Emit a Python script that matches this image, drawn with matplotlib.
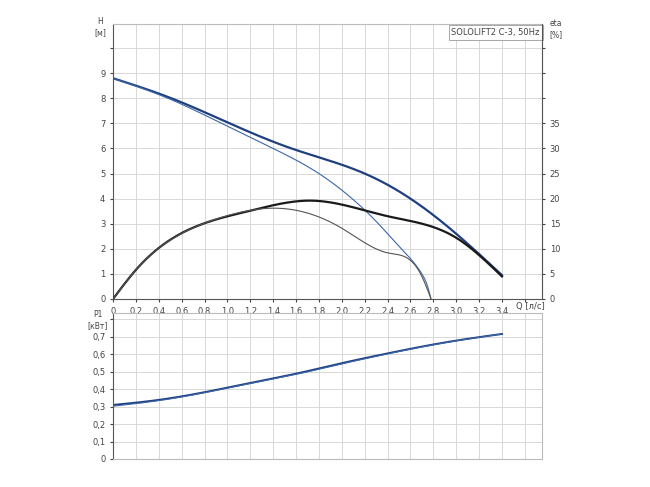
import numpy as np
import matplotlib.pyplot as plt

q_h = [0, 0.51, 1.02, 1.56, 2.2, 2.6, 3.0, 3.4]
h_full = [8.8, 8.0, 7.0, 6.0, 5.0, 4.0, 2.6, 0.95]
q_h2 = [0, 0.48, 0.95, 1.4, 1.8, 2.09, 2.32, 2.52, 2.70, 2.75, 2.78]
h_part = [8.8, 8.0, 7.0, 6.0, 5.0, 4.0, 3.0, 2.0, 1.0, 0.5, 0.0]
q_eta = [0, 0.2, 0.8, 1.2, 1.74, 2.4, 3.0, 3.4]
eta_full = [0, 5.8, 15.1, 17.6, 19.6, 16.5, 12.2, 4.5]
q_eta2 = [0, 0.2, 0.8, 1.1, 1.4, 2.0, 2.4, 2.7, 2.78]
eta_part = [0, 5.8, 15.1, 17.2, 18.1, 14.1, 9.2, 4.5, 0.0]
q_p = [0, 0.4, 0.8, 1.2, 1.6, 2.0, 2.4, 2.8, 3.2, 3.4]
p1_a = [0.309, 0.338, 0.382, 0.435, 0.488, 0.548, 0.604, 0.655, 0.697, 0.715]
p1_b = [0.302, 0.334, 0.379, 0.432, 0.484, 0.544, 0.601, 0.653, 0.696, 0.715]

blue = "#1f3f7f"
lblue = "#3a66a8"
gc = "#d8d8d8"
fs = 6


def spline(x, y, n=300):
    # natural cubic spline through the read points
    x = np.asarray(x, float)
    y = np.asarray(y, float)
    m = len(x)
    h = np.diff(x)
    A = np.zeros((m, m))
    b = np.zeros(m)
    A[0, 0] = A[-1, -1] = 1
    for i in range(1, m - 1):
        A[i, i - 1] = h[i - 1]
        A[i, i] = 2 * (h[i - 1] + h[i])
        A[i, i + 1] = h[i]
        b[i] = 3 * ((y[i + 1] - y[i]) / h[i] - (y[i] - y[i - 1]) / h[i - 1])
    c = np.linalg.solve(A, b)
    xs = np.linspace(x[0], x[-1], n)
    k = np.clip(np.searchsorted(x, xs) - 1, 0, m - 2)
    d = xs - x[k]
    bb = (y[k + 1] - y[k]) / h[k] - h[k] * (2 * c[k] + c[k + 1]) / 3
    dd = (c[k + 1] - c[k]) / (3 * h[k])
    return xs, y[k] + bb * d + c[k] * d ** 2 + dd * d ** 3


fig = plt.figure(figsize=(6.5, 4.87), dpi=100)
ax = fig.add_axes([113/650, 1-299/487, 429/650, 275/487])
ax2 = ax.twinx()
axp = fig.add_axes([113/650, 1-459/487, 429/650, 146/487])

ax.set_xlim(0, 3.75)
ax.set_ylim(0, 10.96)
ax2.set_ylim(0, 54.8)
axp.set_xlim(0, 3.75)
axp.set_ylim(0, 0.835)

ax.plot(*spline(q_h, h_full), color=blue, lw=1.6)
ax.plot(*spline(q_h2, h_part), color=lblue, lw=0.8)
ax2.plot(*spline(q_eta, eta_full), color="#1a1a1a", lw=1.6)
ax2.plot(*spline(q_eta2, eta_part), color="#555555", lw=0.8)
axp.plot(*spline(q_p, p1_a), color=blue, lw=1.4)
axp.plot(*spline(q_p, p1_b), color=lblue, lw=0.8)

xt = np.arange(0, 3.61, 0.2)
for a in (ax, axp):
    a.set_xticks(xt)
    a.grid(True, color=gc, lw=0.7)
    a.set_axisbelow(True)
    a.tick_params(labelsize=fs, colors="#444444", length=2)
    for s in a.spines.values():
        s.set_color("#bbbbbb")
    a.spines["left"].set_color("#555555")
ax.spines["bottom"].set_color("#555555")
ax.set_xticklabels([f"{v:.1f}".replace(".", ",") if v < 3.5 else "" for v in xt])
ax.set_xticklabels(["0"] + [f"{v:.1f}".replace(".", ",") if v < 3.5 else "" for v in xt[1:]])
axp.set_xticklabels([])
axp.tick_params(axis="x", length=0)
ax.set_yticks(range(0, 11))
ax.set_yticklabels([str(i) if i <= 9 else "" for i in range(11)])
ax2.set_yticks(range(0, 55, 5))
ax2.set_yticklabels([str(i) if i <= 35 else "" for i in range(0, 55, 5)])
ax2.tick_params(labelsize=fs, colors="#444444", length=2)
ax2.spines["right"].set_color("#555555")
for s in ("top", "left", "bottom"):
    ax2.spines[s].set_visible(False)
yp = np.arange(0, 0.81, 0.1)
axp.set_yticks(yp)
axp.set_yticklabels(["0"] + [f"{v:.1f}".replace(".", ",") if v < 0.75 else "" for v in yp[1:]])

fig.text(100/650, 1-27/487, "H\n[м]", fontsize=fs-0.5, color="#444444", ha="center", va="center")
fig.text(556/650, 1-29/487, "eta\n[%]", fontsize=fs-0.5, color="#444444", ha="center", va="center")
fig.text(98/650, 1-320/487, "P1\n[кВт]", fontsize=fs-0.5, color="#444444", ha="center", va="center")
fig.text(530/650, 1-306/487, "Q [л/с]", fontsize=fs, color="#444444", ha="center", va="center")
ax.text(0.995, 0.985, "SOLOLIFT2 C-3, 50Hz", transform=ax.transAxes, fontsize=fs,
        color="#444444", ha="right", va="top",
        bbox=dict(facecolor="white", edgecolor="#999999", lw=0.6, pad=2))

fig.savefig("out.png", dpi=100)
